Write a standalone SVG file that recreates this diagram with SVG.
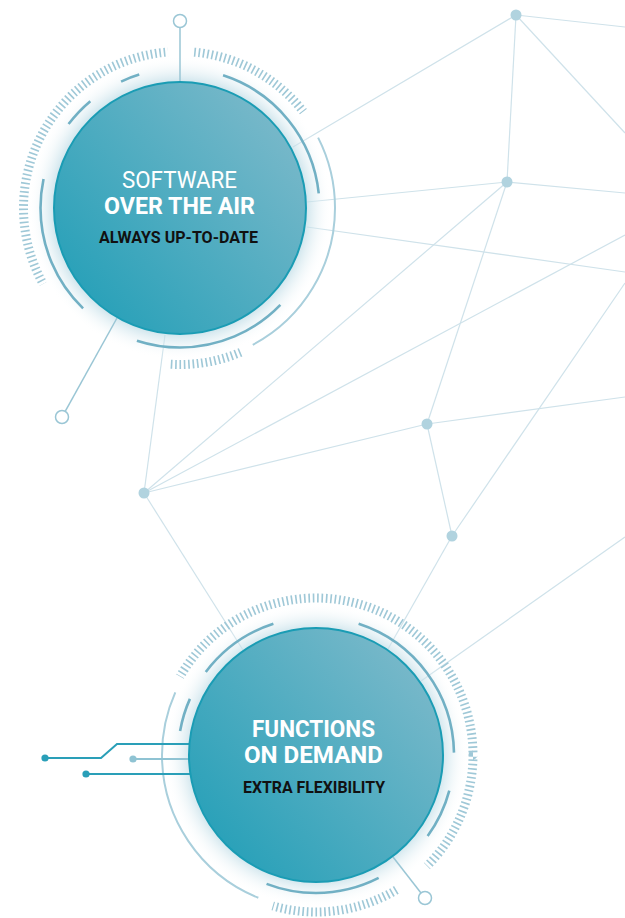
<svg xmlns="http://www.w3.org/2000/svg" width="625" height="918" viewBox="0 0 625 918">
  <defs>
    <linearGradient id="fillGrad" x1="0.1" y1="0.9" x2="0.95" y2="0.15">
      <stop offset="0" stop-color="#26a0b8"/>
      <stop offset="1" stop-color="#7bb9ca"/>
    </linearGradient>
    <radialGradient id="halo" cx="0.5" cy="0.5" r="0.5">
      <stop offset="0" stop-color="#b9d9e4" stop-opacity="0.8"/>
      <stop offset="0.82" stop-color="#b9d9e4" stop-opacity="0.75"/>
      <stop offset="1" stop-color="#ffffff" stop-opacity="0"/>
    </radialGradient>
    <mask id="tickMaskTop" maskUnits="userSpaceOnUse" x="0" y="0" width="625" height="918">
      <circle cx="180" cy="208" r="156.5" fill="none" stroke="#fff" stroke-width="16" pathLength="360" stroke-dasharray="0 67 27 57 114.5 9 47.5 38"/>
    </mask>
    <mask id="tickMaskBot" maskUnits="userSpaceOnUse" x="0" y="0" width="625" height="918">
      <circle cx="316" cy="755" r="157" fill="none" stroke="#fff" stroke-width="16" pathLength="360" stroke-dasharray="45 14 47 104 150"/>
    </mask>
  </defs>
  <style>
    .net { stroke: #cfe2ea; stroke-width: 1.2; fill: none; }
    .dot { fill: #b1d3df; }
    .ring-dark { fill: none; stroke: #71b0c4; stroke-width: 2.6; }
    .ring-light { fill: none; stroke: #a9cfdc; stroke-width: 2; }
    .ticks { fill: none; stroke: #9fc8d7; stroke-width: 9; }
    .main { fill: url(#fillGrad); stroke: #1a9cb4; stroke-width: 2; }
    .pin { fill: #ffffff; stroke: #9ac6d5; stroke-width: 1.5; }
    .pinline { stroke: #9ac6d5; stroke-width: 1.5; fill: none; }
    .t-white { font-family: Roboto, "Liberation Sans", sans-serif; fill: #ffffff; text-anchor: middle; font-size: 23.5px; }
    .t-black { font-family: Roboto, "Liberation Sans", sans-serif; fill: #111111; text-anchor: middle; font-weight: bold; font-size: 16px; }
    .circ-dark { stroke: #2a9fb8; stroke-width: 2; fill: none; }
    .circ-light { stroke: #8fc3d3; stroke-width: 2; fill: none; }
  </style>
  <rect x="0" y="0" width="625" height="918" fill="#ffffff"/>

  <g id="connectors">
    <line class="net" x1="516" y1="15" x2="625" y2="27"/>
    <line class="net" x1="516" y1="15" x2="625" y2="133"/>
    <line class="net" x1="516" y1="15" x2="507" y2="182"/>
    <line class="net" x1="516" y1="15" x2="293" y2="147"/>
    <line class="net" x1="507" y1="182" x2="625" y2="193"/>
    <line class="net" x1="507" y1="182" x2="307" y2="202"/>
    <line class="net" x1="507" y1="182" x2="427" y2="424"/>
    <line class="net" x1="507" y1="182" x2="144" y2="493"/>
    <line class="net" x1="307" y1="227" x2="625" y2="272"/>
    <line class="net" x1="625" y1="235" x2="144" y2="493"/>
    <line class="net" x1="144" y1="493" x2="165" y2="335"/>
    <line class="net" x1="144" y1="493" x2="427" y2="424"/>
    <line class="net" x1="144" y1="493" x2="243" y2="650"/>
    <line class="net" x1="427" y1="424" x2="625" y2="397"/>
    <line class="net" x1="427" y1="424" x2="452" y2="536"/>
    <line class="net" x1="452" y1="536" x2="625" y2="283"/>
    <line class="net" x1="452" y1="536" x2="388" y2="649"/>
    <line class="net" x1="625" y1="537" x2="421" y2="681"/>
  </g>

  <g id="net-nodes">
    <circle id="net-a" class="dot" cx="516" cy="15" r="5.5"/>
    <circle id="net-b" class="dot" cx="507" cy="182" r="5.5"/>
    <circle id="net-c" class="dot" cx="427" cy="424" r="5.5"/>
    <circle id="net-d" class="dot" cx="144" cy="493" r="5.5"/>
    <circle id="net-e" class="dot" cx="452" cy="536" r="5.5"/>
  </g>

  <g id="node-software">
    <circle cx="180" cy="208" r="152" fill="url(#halo)"/>
    <line class="pinline" x1="180" y1="27.5" x2="180" y2="82"/>
    <circle class="pin" cx="180" cy="21" r="6.5"/>
    <line class="pinline" x1="117" y1="318" x2="65.2" y2="411.3"/>
    <circle class="pin" cx="62" cy="417" r="6.5"/>
    <circle class="ticks" cx="180" cy="208" r="156.5" pathLength="360" stroke-dasharray="0.6 1.0" mask="url(#tickMaskTop)"/>
    <circle class="ring-light" cx="180" cy="208" r="155" pathLength="360" stroke-dasharray="62 271 27"/>
    <circle class="ring-dark" cx="180" cy="208" r="139.5" pathLength="360" stroke-dasharray="0 44 64 26 58 25 13 15 8 35 66 6"/>
    <circle class="main" cx="180" cy="208" r="126"/>
    <text class="t-white" x="179.5" y="188" textLength="115" lengthAdjust="spacingAndGlyphs">SOFTWARE</text>
    <text class="t-white" x="179.5" y="213.5" font-weight="bold" textLength="151" lengthAdjust="spacingAndGlyphs">OVER THE AIR</text>
    <text class="t-black" x="178.5" y="243.3" textLength="159" lengthAdjust="spacingAndGlyphs">ALWAYS UP-TO-DATE</text>
  </g>

  <g id="node-functions">
    <circle cx="316" cy="755" r="152" fill="url(#halo)"/>
    <line class="pinline" x1="393" y1="857" x2="421" y2="893"/>
    <circle class="pin" cx="425" cy="898" r="6.5"/>
    <circle class="ticks" cx="316" cy="755" r="157" pathLength="360" stroke-dasharray="0.6 1.0" mask="url(#tickMaskBot)"/>
    <circle class="ring-light" cx="316" cy="755" r="154" pathLength="360" stroke-dasharray="0 112 92 156"/>
    <circle class="ring-dark" cx="316" cy="755" r="138" pathLength="360" stroke-dasharray="0 15 21 27 48 79 14 13 35 36 71 1"/>
    <g id="circuit">
      <polyline class="circ-dark" points="45,758 101,758 117,744 192,744"/>
      <circle cx="45" cy="758" r="3.6" fill="#2a9fb8"/>
      <line class="circ-light" x1="133" y1="759" x2="192" y2="759"/>
      <circle cx="133" cy="759" r="3.6" fill="#8fc3d3"/>
      <line class="circ-dark" x1="86" y1="774" x2="192" y2="774"/>
      <circle cx="86" cy="774" r="3.6" fill="#2a9fb8"/>
    </g>
    <circle class="main" cx="316" cy="755" r="127"/>
    <text class="t-white" x="313.5" y="736.7" font-weight="bold" textLength="123" lengthAdjust="spacingAndGlyphs">FUNCTIONS</text>
    <text class="t-white" x="313.5" y="763.3" font-weight="bold" textLength="139" lengthAdjust="spacingAndGlyphs">ON DEMAND</text>
    <text class="t-black" x="314" y="792.7" textLength="142" lengthAdjust="spacingAndGlyphs">EXTRA FLEXIBILITY</text>
  </g>
</svg>
